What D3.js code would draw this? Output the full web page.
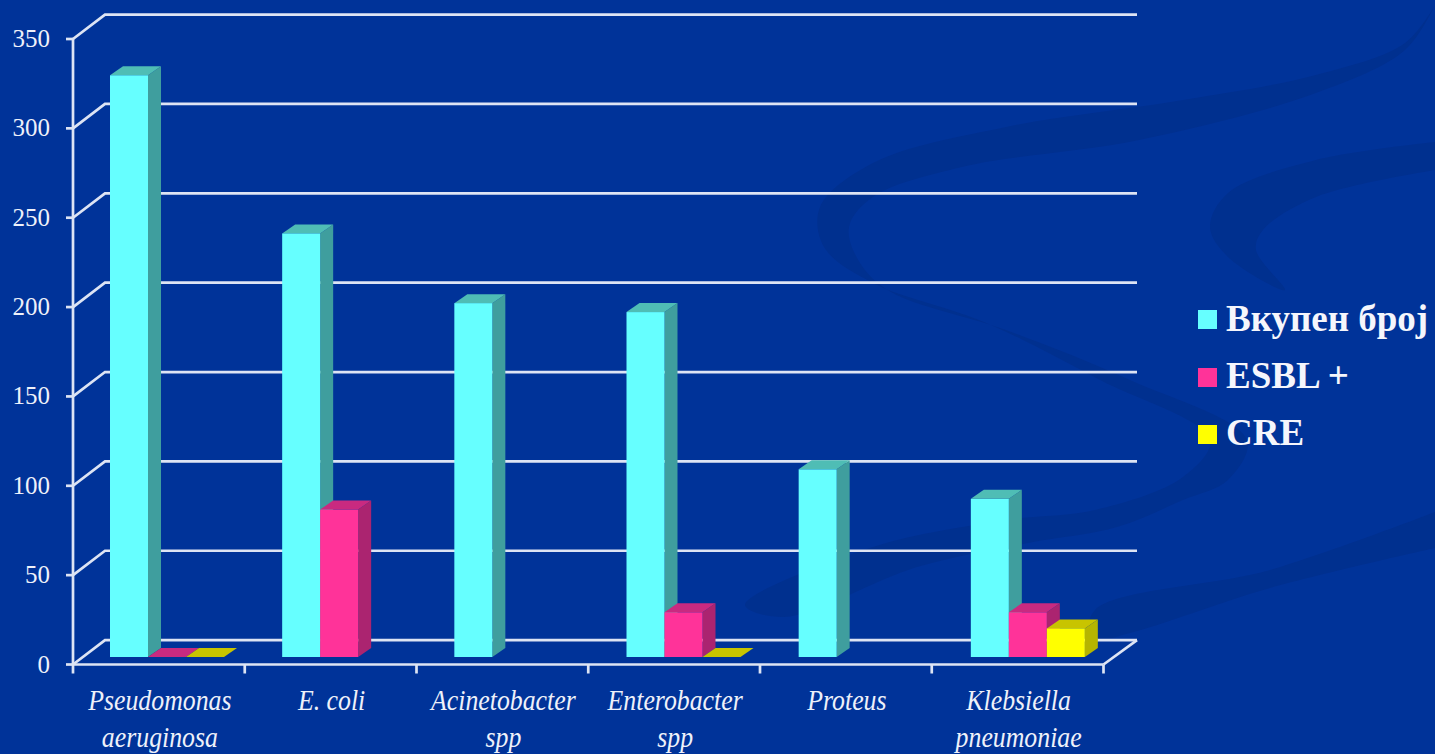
<!DOCTYPE html>
<html><head><meta charset="utf-8">
<style>html,body{margin:0;padding:0;background:#003399;overflow:hidden}svg{display:block}</style>
<script src="https://cdn.jsdelivr.net/npm/d3@7"></script></head>
<body><svg id="c" width="1435" height="754"></svg>
<script>
const categories=[["Pseudomonas","aeruginosa"],["E. coli"],["Acinetobacter","spp"],["Enterobacter","spp"],["Proteus"],["Klebsiella","pneumoniae"]];
const seriesNames=["Вкупен број","ESBL +","CRE"];
const total=[325.5,237,198,193,105,88.5];
const esbl=[0,82.5,null,25,null,25];
const cre=[0,null,null,0,null,16];
const yTicks=[0,50,100,150,200,250,300,350];
const colors=["#66ffff","#ff3399","#ffff00"];
const sideColors=["#3f9e9e","#ab2470","#b5b500"];
const topColors=["#4fbdb5","#c92a80","#c8c400"];
const svg=d3.select("#c");
svg.append("defs").append("filter").attr("id","soft").append("feGaussianBlur").attr("stdDeviation",0.35);
// background swooshes
const bg=svg.append("g").attr("fill","#00308f");
bg.append("rect").attr("width",1435).attr("height",754).attr("fill","#003399");
const smooth=d3.line().curve(d3.curveCatmullRom.alpha(0.5));
const swooshA=[[1435,5],[1405,43],[1316,75],[1183,100],[1006,127],[873,163],[820,207],[824,247],[873,283],[984,322],[1100,380],[1210,440],[1183,477],[1095,510],[1006,520],[873,547],[745,605],
  [784,617],[917,567],[1028,543],[1117,527],[1183,500],[1228,480],[1247,440],[1130,380],[1006,330],[891,292],[860,263],[849,227],[873,197],[962,167],[1139,140],[1316,93],[1405,50],[1435,5]];
const swooshB=[[1435,142],[1316,160],[1228,193],[1210,227],[1228,257],[1285,290],[1256,250],[1263,230],[1316,197],[1435,170]];
const swooshC=[[1435,512],[1270,570],[1095,610],[1090,640],[1130,633],[1270,588],[1435,548]];
[swooshA,swooshB,swooshC].forEach(p=>bg.append("path").attr("d",smooth(p)+"Z"));
const y=d3.scaleLinear().domain([0,350]).range([664.5,39]);
const x=d3.scaleBand().domain(d3.range(categories.length)).range([73,1103.5]);
const barBand=d3.scaleBand().domain(d3.range(categories.length)).range([73,1106]);
const inner=d3.scaleBand().domain(d3.range(3)).range([37,151]);
const wallDx=32,wallDy=-24.4,barDx=13,barDy=-9,barBase=-7.5;
const ax=svg.append("g").attr("stroke","#dde4f4").attr("stroke-width",2.7).attr("fill","none").attr("filter","url(#soft)");
yTicks.forEach(t=>{
  ax.append("path").attr("d",d3.line()([[73,y(t)],[73+wallDx,y(t)+wallDy],[1103.5+wallDx+1.5,y(t)+wallDy]]));
  ax.append("line").attr("x1",66).attr("x2",73).attr("y1",y(t)).attr("y2",y(t));
});
ax.append("line").attr("x1",73).attr("x2",73).attr("y1",y(350)).attr("y2",y(0));
ax.append("line").attr("x1",73).attr("x2",1103.5).attr("y1",y(0)).attr("y2",y(0));
ax.append("line").attr("x1",1103.5).attr("x2",1103.5+wallDx+1.5).attr("y1",y(0)).attr("y2",y(0)+wallDy);
d3.range(categories.length+1).forEach(i=>{
  const px=i<categories.length?x(i):x.range()[1];
  ax.append("line").attr("x1",px).attr("x2",px).attr("y1",y(0)).attr("y2",y(0)+9);
});
svg.append("g").selectAll("text").data(yTicks).join("text")
  .attr("x",50).attr("y",d=>y(d)+8).attr("text-anchor","end")
  .attr("font-family","Liberation Serif").attr("font-size",25).attr("fill","#eef1fa").text(d=>d);
const bars=svg.append("g");
[total,esbl,cre].forEach((vals,s)=>{
  vals.forEach((v,i)=>{
    if(v===null)return;
    const x0=barBand(i)+inner(s),w=inner.bandwidth(),yb=y(0)+barBase,yt=y(v)+barBase;
    const g=bars.append("g");
    g.append("path").attr("fill",sideColors[s]).attr("d",d3.line()([[x0+w,yb],[x0+w+barDx,yb+barDy],[x0+w+barDx,yt+barDy],[x0+w,yt]]));
    g.append("path").attr("fill",topColors[s]).attr("d",d3.line()([[x0,yt],[x0+barDx,yt+barDy],[x0+w+barDx,yt+barDy],[x0+w,yt]]));
    if(v>0)g.append("rect").attr("x",x0).attr("y",yt).attr("width",w).attr("height",yb-yt).attr("fill",colors[s]);
  });
});
const lab=svg.append("g").attr("font-family","Liberation Serif").attr("font-style","italic").attr("font-size",30).attr("fill","#eef1fa").attr("text-anchor","middle");
categories.forEach((c,i)=>{
  c.forEach((line,j)=>lab.append("text").attr("transform",`translate(${x(i)+x.bandwidth()/2+1},${710+j*36.5}) scale(0.86,1)`).text(line));
});
const legY=[320,378,435];
const legBase=[331,388,445];
const leg=svg.append("g");
seriesNames.forEach((n,i)=>{
  leg.append("rect").attr("x",1198).attr("y",legY[i]-10).attr("width",19).attr("height",19).attr("fill",colors[i]);
  leg.append("text").attr("x",1226).attr("y",legBase[i]).attr("font-family","Liberation Serif").attr("font-weight","bold").attr("font-size",37).attr("fill","#f5f6fc").text(n);
});
</script></body></html>
